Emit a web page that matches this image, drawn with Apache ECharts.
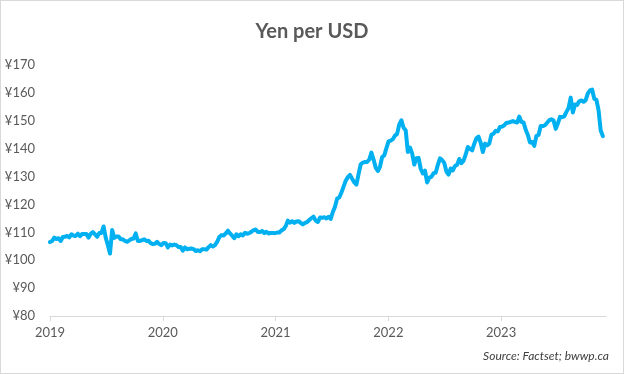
<!DOCTYPE html>
<html>
<head>
<meta charset="utf-8">
<script src="https://cdn.jsdelivr.net/npm/echarts@6/dist/echarts.min.js"></script>
<style>
  html, body { margin: 0; padding: 0; background: #fff; }
  #chart { width: 624px; height: 374px; box-sizing: border-box; border: 1px solid #d9d9d9; }
</style>
</head>
<body>
<div id="chart"></div>
<script>
// Chart text
const titleText = 'Yen per USD';
const sourceText = 'Source: Factset; bwwp.ca';
const yTicks = [80, 90, 100, 110, 120, 130, 140, 150, 160, 170];
const xTickLabels = [2019, 2020, 2021, 2022, 2023];
const xStart = 2019;          // first observation on the axis
const weekStep = 0.0190;      // axis years between consecutive observations

// Weekly yen per USD readings, grouped by labelled year
const vals2019 = [106.5,106.9,108.1,107.6,107.9,106.9,108.3,108.4,108.7,108.2,109.3,108.8,108.7,109.5,108.6,109.4,109.4,109.4];
const vals2020 = [108.1,109.5,110.1,109.3,108.4,109.8,109.8,112.1,108.1,105.4,102.4,110.8,108.0,108.5,108.5,107.5,107.5,106.9,106.6,107.1,107.6,107.8,109.6,106.9,106.9,107.2,107.5,106.9,107.0,106.1,105.8,105.9,106.6,105.8,105.4,106.2,106.1,104.6,105.6,105.3,105.6,105.4,104.7,104.7,103.4,104.6,103.9,104.1,104.2,104.0,103.3,103.6];
const vals2021 = [103.2,103.9,103.9,103.8,104.7,105.4,104.9,105.4,106.6,108.3,109.0,108.9,109.6,110.6,109.6,108.8,107.9,109.3,108.6,109.3,108.9,109.8,109.5,109.7,110.2,110.8,111.0,110.1,110.1,110.5,109.7,110.2,109.6,109.8,109.8,109.7,109.9,109.9,110.7,111.1,112.2,114.2,113.5,114.0,113.4,113.9,114.0,113.4,112.8,113.4,113.7,114.4,115.1];
const vals2022 = [115.6,114.2,113.7,115.3,115.2,115.4,115.0,115.6,114.8,117.3,119.2,122.1,122.5,124.3,126.4,128.5,129.8,130.6,129.2,127.9,127.1,130.9,134.4,135.0,135.2,135.2,136.1,138.6,136.1,133.2,132.0,133.5,137.0,137.6,140.2,142.6,142.9,143.4,144.7,145.3,148.7,150.2,147.5,146.6,138.8,140.4,138.3,134.3,136.6,136.7,132.8,131.1];
const vals2023 = [132.1,127.9,129.6,129.9,131.2,131.4,134.2,136.5,135.9,134.9,131.8,130.7,132.9,132.2,133.8,134.2,136.3,134.8,135.7,137.9,140.6,139.9,139.4,141.8,143.7,144.3,142.1,138.8,141.8,141.2,141.8,145.0,145.4,146.4,146.2,147.8,147.9,148.4,149.3,149.3,149.6,149.9,149.6,149.4,151.5,149.6,149.4,146.8,144.9,142.2,142.4,141.0];
const vals2024 = [144.6,144.9,148.1,148.1,148.4,149.3,150.2,150.5,150.1,147.1,149.0,151.4,151.3,151.6,153.2,154.6,158.3,153.0,155.8,155.7,157.0,157.3,156.8,157.4,159.8,160.9,161.2,157.9,157.5,153.8,146.5,144.5];

const values = [].concat(vals2019, vals2020, vals2021, vals2022, vals2023, vals2024);
const seriesData = values.map((v, i) => [xStart + i * weekStep, v]);

const font = 'Lato, "Open Sans", sans-serif';
const chart = echarts.init(document.getElementById('chart'), null, { renderer: 'canvas' });
chart.setOption({
  animation: false,
  backgroundColor: '#ffffff',
  title: {
    text: titleText,
    left: 'center',
    top: 16,
    textStyle: { fontFamily: font, fontSize: 20, fontWeight: 'bold', color: '#595959' }
  },
  grid: { left: 49, right: 17, top: 64, bottom: 57 },
  xAxis: {
    type: 'value',
    min: 2019,
    max: 2023.93,
    interval: 1,
    axisLine: { show: true, lineStyle: { color: '#d9d9d9', width: 1 } },
    axisTick: { show: true, length: 5, lineStyle: { color: '#d9d9d9' } },
    splitLine: { show: false },
    axisLabel: {
      showMaxLabel: false,
      margin: 10,
      fontFamily: font, fontSize: 13, color: '#595959',
      formatter: v => (xTickLabels.indexOf(Math.round(v)) >= 0 && Math.abs(v - Math.round(v)) < 1e-6) ? String(Math.round(v)) : ''
    }
  },
  yAxis: {
    type: 'value',
    min: yTicks[0],
    max: yTicks[yTicks.length - 1],
    interval: 10,
    axisLine: { show: false },
    axisTick: { show: false },
    splitLine: { show: false },
    axisLabel: {
      margin: 15,
      fontFamily: font, fontSize: 13, color: '#595959',
      formatter: v => '¥' + v
    }
  },
  series: [{
    type: 'line',
    data: seriesData,
    showSymbol: false,
    symbol: 'none',
    lineStyle: { color: '#00B0F0', width: 4, join: 'round', cap: 'round' },
    itemStyle: { color: '#00B0F0' }
  }],
  graphic: [{
    type: 'text',
    right: 14,
    top: 349,
    style: {
      text: sourceText,
      font: 'italic 12px ' + font,
      fill: '#404040'
    }
  }]
});
</script>
</body>
</html>
